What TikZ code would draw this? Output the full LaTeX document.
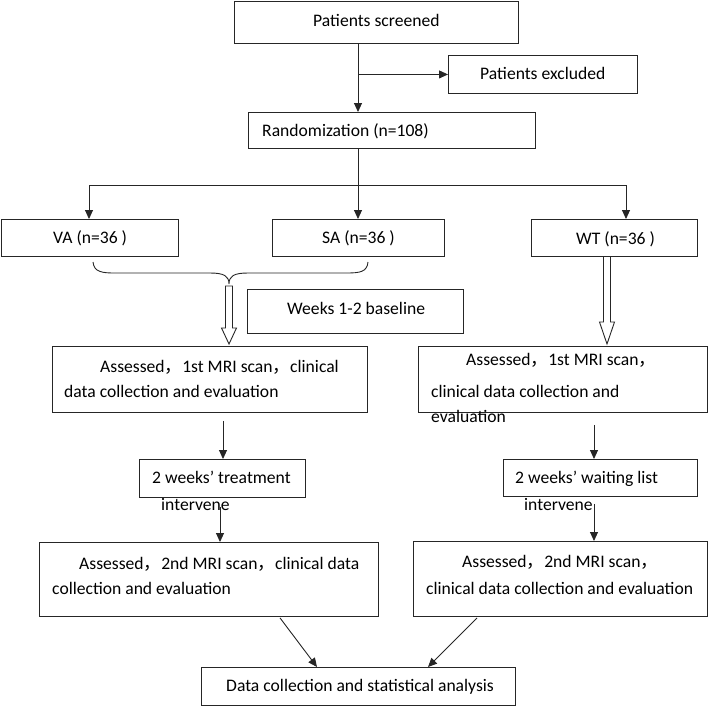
\documentclass[tikz,border=0pt]{standalone}
\usepackage{fontspec}
\setmainfont{Carlito}
\newfontfamily\cjk{Noto Sans CJK SC}
\usetikzlibrary{arrows.meta,calc}
\newcommand{\fc}{{\cjk ，}}
\tikzset{
  box/.style={draw=black!85, line width=0.9pt, anchor=north west, inner sep=0pt},
  txt/.style={anchor=west, inner sep=0pt, font=\fontsize{17.6}{20}\selectfont, text height=12pt, text depth=4pt},
  arr/.style={draw=black!85, line width=0.9pt, -{Triangle[length=9pt,width=8pt]}},
  ln/.style={draw=black!85, line width=0.9pt},
  hollow/.style={draw=black!85, line width=0.9pt, fill=white, line join=miter}
}
\begin{document}
\begin{tikzpicture}[x=1pt,y=-1pt]
\useasboundingbox (0,0) rectangle (709,705);
% boxes
\node[box, minimum width=284pt, minimum height=42pt] (screened) at (234,1) {};
\node[box, minimum width=189pt, minimum height=38pt] (excluded) at (448,55) {};
\node[box, minimum width=287pt, minimum height=36pt] (rand) at (248,112) {};
\node[box, minimum width=177.5pt, minimum height=37pt] (VA) at (0.5,219) {};
\node[box, minimum width=172pt, minimum height=37pt] (SA) at (272,219) {};
\node[box, minimum width=166pt, minimum height=37pt] (WT) at (531,219) {};
\node[box, minimum width=216pt, minimum height=44pt] (weeks) at (247,289) {};
\node[box, minimum width=315pt, minimum height=66pt] (assessL) at (52,346) {};
\node[box, minimum width=289pt, minimum height=66pt] (assessR) at (418,346) {};
\node[box, minimum width=166pt, minimum height=38pt] (treat) at (139,459) {};
\node[box, minimum width=194pt, minimum height=37pt] (wait) at (503,459) {};
\node[box, minimum width=339pt, minimum height=74pt] (bottomL) at (39,542) {};
\node[box, minimum width=294pt, minimum height=75pt] (bottomR) at (413,541) {};
\node[box, minimum width=314pt, minimum height=38pt] (final) at (201,667) {};
% texts
\node[txt] (t1) at (313,22) {Patients screened};
\node[txt] (t2) at (480,75) {Patients excluded};
\node[txt] (t3) at (262,132) {Randomization (n=108)};
\node[txt] (t4) at (53,239) {VA (n=36 )};
\node[txt] (t5) at (322,239) {SA (n=36 )};
\node[txt] (t6) at (576,240) {WT (n=36 )};
\node[txt] (t7) at (287,310) {Weeks 1-2 baseline};
\node[txt] (t8) at (100,368) {Assessed\fc1st MRI scan\fc clinical};
\node[txt] (t9) at (64,393) {data collection and evaluation};
\node[txt] (t10) at (466,361) {Assessed\fc1st MRI scan\fc};
\node[txt] (t11) at (431,393) {clinical data collection and};
\node[txt] (t12) at (431,418) {evaluation};
\node[txt] (t13) at (152,479) {2 weeks’ treatment};
\node[txt] (t14) at (161,506) {intervene};
\node[txt] (t15) at (515,479) {2 weeks’ waiting list};
\node[txt] (t16) at (524,506) {intervene};
\node[txt] (t17) at (79,565) {Assessed\fc2nd MRI scan\fc clinical data};
\node[txt] (t18) at (52,590) {collection and evaluation};
\node[txt] (t19) at (462,563) {Assessed\fc2nd MRI scan\fc};
\node[txt] (t20) at (426,590) {clinical data collection and evaluation};
\node[txt] (t21) at (226,687) {Data collection and statistical analysis};
% connector coordinates
\coordinate (cx) at (358,0);
\coordinate (bL) at (89,185);
\coordinate (bM) at (358,185);
\coordinate (bR) at (626,185);
\coordinate (lx) at (223,0);
\coordinate (lx2) at (220,0);
\coordinate (rx) at (594,0);
% connectors
\draw[arr] (screened.south -| cx) -- (rand.north -| cx);
\draw[arr] (cx |- excluded.west) -- (excluded.west);
\draw[ln] (rand.south -| cx) -- (bM);
\draw[ln] (bL) -- (bR);
\draw[arr] (bL) -- (VA.north -| bL);
\draw[arr] (bM) -- (SA.north -| bM);
\draw[arr] (bR) -- (WT.north -| bR);
% brace
\coordinate (brA) at (93,262);
\coordinate (brB) at (368,262);
\coordinate (brT) at (229,284);
\draw[ln] (brA) .. controls (94,272) and (102,273) .. (115,273) -- (210,273)
  .. controls (224,273) and (229,276) .. (brT)
  .. controls (229,276) and (234,273) .. (248,273) -- (346,273)
  .. controls (360,273) and (367,272) .. (brB);
% hollow arrows
\draw[hollow] (225.5,286) -- (232.5,286) -- (232.5,328) -- (236.5,328) -- (229,344) -- (221.5,328) -- (225.5,328) -- cycle;
\draw[hollow] (603.5,256.5) -- (610.5,256.5) -- (610.5,322) -- (614.5,322) -- (607,344) -- (599.5,322) -- (603.5,322) -- cycle;
% lower arrows
\draw[arr] ($(assessL.south -| lx)+(0,8)$) -- (treat.north -| lx);
\draw[arr] ($(treat.south -| lx2)+(0,9)$) -- (bottomL.north -| lx2);
\draw[arr] ($(assessR.south -| rx)+(0,12)$) -- (wait.north -| rx);
\draw[arr] ($(wait.south -| rx)+(0,7)$) -- (bottomR.north -| rx);
\draw[arr] ($(bottomL.south west)+(241,1)$) -- ($(final.north west)+(116,0)$);
\draw[arr] ($(bottomR.south west)+(64,1)$) -- ($(final.north west)+(227,0)$);
\end{tikzpicture}
\end{document}
